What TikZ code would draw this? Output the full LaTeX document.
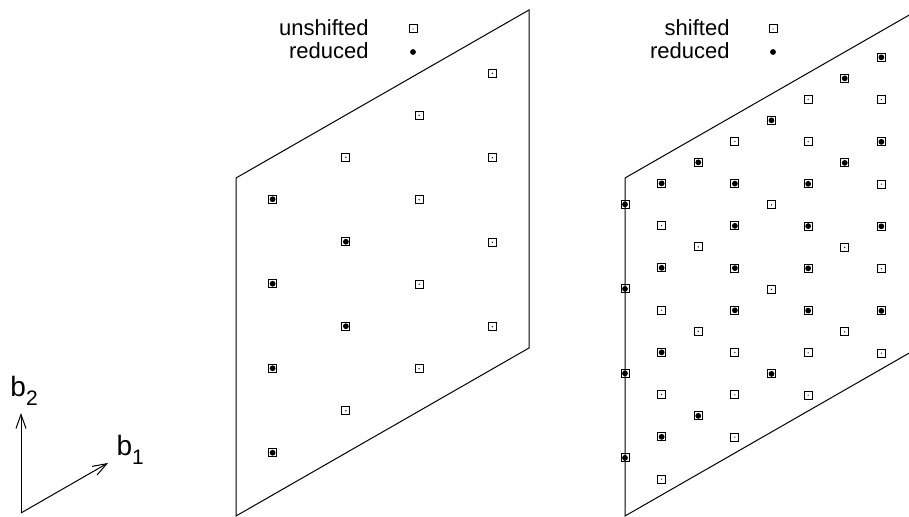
\documentclass[tikz,border=0pt]{standalone}
\usepackage{fontspec}
\setmainfont{Liberation Sans}
\usepackage{tikz}
\usetikzlibrary{arrows.meta}
\tikzset{>={Straight Barb[length=7pt,width=5pt]}}
\tikzset{boxmark/.pic={
    \draw[line width=0.5pt] (-2pt,-2pt) rectangle (2pt,2pt);
    \fill (0,0) circle [radius=0.35pt];}}
\tikzset{dotmark/.pic={\fill (0,0) circle [radius=1.45pt];}}
\tikzstyle{legend text}=[anchor=base east,inner sep=0pt,font=\fontsize{11}{13}\selectfont]
\tikzstyle{basis text}=[anchor=base west,inner sep=0pt,font=\fontsize{14}{16}\selectfont]
\newcommand{\bsub}[1]{b\raisebox{-4.5pt}{\fontsize{10.5}{12}\selectfont #1}}

\begin{document}
\begin{tikzpicture}[x=0.5pt,y=0.5pt,line width=0.5pt]
    \def\vo{0.047}
    \useasboundingbox (0,0) rectangle (909,517);
    \clip (0,0) rectangle (909,517);

    % basis vectors
    \coordinate (o) at (21,4);
    \coordinate (e1) at (108,54);
    \coordinate (e2) at (21,104);
    \draw[->] (o) -- (e1);
    \draw[->] (o) -- (e2);
    \node[basis text] (b1) at (116,61) {\bsub{1}};
    \node[basis text] (b2) at (10,120) {\bsub{2}};

    % unshifted lattice
    \begin{scope}[shift={(236,1)},x={(146.5pt,84pt)},y={(0pt,169pt)}]
        \draw (0,0) -- (0,1) -- (1,1) -- (1,0) -- cycle;
        \foreach \i in {1,3,5,7}
            \foreach \j in {1,3,5,7}
                \pic at (\i/8,\j/8) {boxmark};
        \foreach \i/\j in {1/1,1/3,1/5,1/7,3/3,3/5}
            \pic at (\i/8,\j/8) {dotmark};
    \end{scope}
    \node[legend text] (unsh) at (369,481) {unshifted};
    \node[legend text] (redl) at (369,458) {reduced};
    \pic at (413,488) {boxmark};
    \pic at (413,465) {dotmark};

    % shifted lattice
    \begin{scope}[shift={(625,1)},x={(146.5pt,84pt)},y={(0pt,169pt)}]
        \draw (0,0) -- (0,1) -- (1,1) -- (1,0) -- cycle;
        \foreach \k in {1,3,5,7}
            \foreach \m in {0,...,7}
                \pic at (\k/8,\vo+\m/8) {boxmark};
        \foreach \k in {0,2,4,6}
            \foreach \m in {1,3,5,7}
                \pic at (\k/8,\vo+\m/8) {boxmark};
        \foreach \k/\m in {0/1,0/3,0/5,0/7,1/1,1/3,1/5,1/7,2/1,2/7,3/3,3/4,3/5,3/6,
                           4/1,4/7,5/2,5/3,5/4,5/5,6/5,6/7,7/1,7/3,7/5,7/7}
            \pic at (\k/8,\vo+\m/8) {dotmark};
    \end{scope}
    \node[legend text] (shif) at (730,481) {shifted};
    \node[legend text] (redr) at (730,458) {reduced};
    \pic at (773,488) {boxmark};
    \pic at (773,465) {dotmark};
\end{tikzpicture}
\end{document}
